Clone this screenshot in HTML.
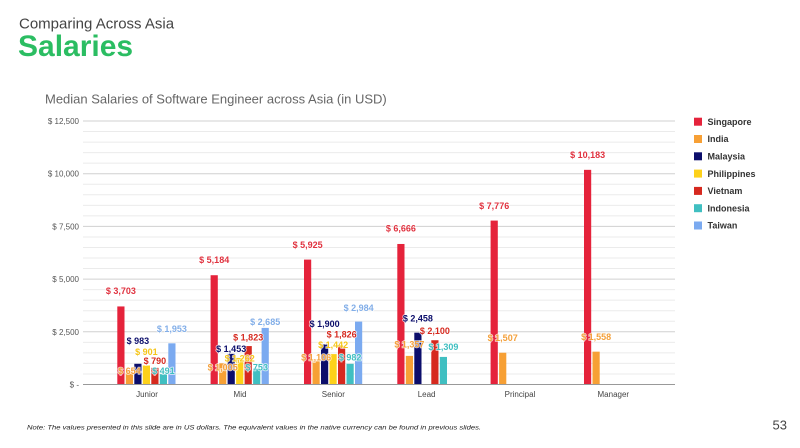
<!DOCTYPE html>
<html><head><meta charset="utf-8"><style>
html,body{margin:0;padding:0;background:#fff;}
svg{display:block;}
text{font-family:"Liberation Sans",Arial,sans-serif;}
.lb{font-size:9px;font-weight:bold;text-anchor:middle;paint-order:stroke;stroke:#fff;stroke-width:1.6px;stroke-opacity:.75;}
.ax{font-size:8px;fill:#555;text-anchor:end;}
.cat{font-size:8px;fill:#444;text-anchor:middle;}
.lg{font-size:9px;font-weight:bold;fill:#333;}
</style></head><body>
<svg width="800" height="448" viewBox="0 0 800 448" xmlns="http://www.w3.org/2000/svg">
<rect width="800" height="448" fill="#fff"/>
<text x="19" y="28.5" font-size="15" fill="#444">Comparing Across Asia</text>
<text x="18" y="56" font-size="30" font-weight="bold" fill="#2bbd62">Salaries</text>
<text x="45" y="103.5" font-size="13" fill="#666">Median Salaries of Software Engineer across Asia (in USD)</text>

<!-- minor gridlines -->
<g stroke="#ebebeb" stroke-width="1">
<line x1="83" x2="675" y1="373.96" y2="373.96"/><line x1="83" x2="675" y1="363.42" y2="363.42"/><line x1="83" x2="675" y1="352.88" y2="352.88"/><line x1="83" x2="675" y1="342.34" y2="342.34"/>
<line x1="83" x2="675" y1="321.26" y2="321.26"/><line x1="83" x2="675" y1="310.72" y2="310.72"/><line x1="83" x2="675" y1="300.18" y2="300.18"/><line x1="83" x2="675" y1="289.64" y2="289.64"/>
<line x1="83" x2="675" y1="268.56" y2="268.56"/><line x1="83" x2="675" y1="258.02" y2="258.02"/><line x1="83" x2="675" y1="247.48" y2="247.48"/><line x1="83" x2="675" y1="236.94" y2="236.94"/>
<line x1="83" x2="675" y1="215.86" y2="215.86"/><line x1="83" x2="675" y1="205.32" y2="205.32"/><line x1="83" x2="675" y1="194.78" y2="194.78"/><line x1="83" x2="675" y1="184.24" y2="184.24"/>
<line x1="83" x2="675" y1="163.16" y2="163.16"/><line x1="83" x2="675" y1="152.62" y2="152.62"/><line x1="83" x2="675" y1="142.08" y2="142.08"/><line x1="83" x2="675" y1="131.54" y2="131.54"/>
</g>
<!-- major gridlines -->
<g stroke="#d0d0d0" stroke-width="1">
<line x1="83" x2="675" y1="331.8" y2="331.8"/><line x1="83" x2="675" y1="279.1" y2="279.1"/><line x1="83" x2="675" y1="226.4" y2="226.4"/><line x1="83" x2="675" y1="173.7" y2="173.7"/><line x1="83" x2="675" y1="121" y2="121"/>
</g>
<g class="ax">
<text x="79" y="124">$ 12,500</text><text x="79" y="176.7">$ 10,000</text><text x="79" y="229.4">$ 7,500</text><text x="79" y="282.1">$ 5,000</text><text x="79" y="334.8">$ 2,500</text><text x="79" y="387.5">$ -</text>
</g>

<!-- bars -->
<g>
<!-- Junior -->
<rect x="117.3" y="306.44" width="7.2" height="78.06" fill="#e5233b"/>
<rect x="125.8" y="370.71" width="7.2" height="13.79" fill="#f7a035"/>
<rect x="134.3" y="363.78" width="7.2" height="20.72" fill="#0c0e6b"/>
<rect x="142.8" y="365.51" width="7.2" height="18.99" fill="#fdd11a"/>
<rect x="151.3" y="367.85" width="7.2" height="16.65" fill="#d6291f"/>
<rect x="159.8" y="374.15" width="7.2" height="10.35" fill="#40bfc1"/>
<rect x="168.3" y="343.33" width="7.2" height="41.17" fill="#7baaf0"/>
<!-- Mid -->
<rect x="210.6" y="275.22" width="7.2" height="109.28" fill="#e5233b"/>
<rect x="219.1" y="363.31" width="7.2" height="21.19" fill="#f7a035"/>
<rect x="227.6" y="353.87" width="7.2" height="30.63" fill="#0c0e6b"/>
<rect x="236.1" y="357.9" width="7.2" height="26.6" fill="#fdd11a"/>
<rect x="244.6" y="346.07" width="7.2" height="38.43" fill="#d6291f"/>
<rect x="253.1" y="368.63" width="7.2" height="15.87" fill="#40bfc1"/>
<rect x="261.6" y="327.9" width="7.2" height="56.6" fill="#7baaf0"/>
<!-- Senior -->
<rect x="304.0" y="259.6" width="7.2" height="124.9" fill="#e5233b"/>
<rect x="312.5" y="361.19" width="7.2" height="23.31" fill="#f7a035"/>
<rect x="321.0" y="344.45" width="7.2" height="40.05" fill="#0c0e6b"/>
<rect x="329.5" y="354.1" width="7.2" height="30.4" fill="#fdd11a"/>
<rect x="338.0" y="346.01" width="7.2" height="38.49" fill="#d6291f"/>
<rect x="346.5" y="363.8" width="7.2" height="20.7" fill="#40bfc1"/>
<rect x="355.0" y="321.6" width="7.2" height="62.9" fill="#7baaf0"/>
<!-- Lead -->
<rect x="397.3" y="243.98" width="7.2" height="140.52" fill="#e5233b"/>
<rect x="405.8" y="355.89" width="7.2" height="28.61" fill="#f7a035"/>
<rect x="414.3" y="332.69" width="7.2" height="51.81" fill="#0c0e6b"/>
<rect x="431.3" y="340.23" width="7.2" height="44.27" fill="#d6291f"/>
<rect x="439.8" y="356.91" width="7.2" height="27.59" fill="#40bfc1"/>
<!-- Principal -->
<rect x="490.6" y="220.58" width="7.2" height="163.92" fill="#e5233b"/>
<rect x="499.1" y="352.73" width="7.2" height="31.77" fill="#f7a035"/>
<!-- Manager -->
<rect x="584.0" y="169.84" width="7.2" height="214.66" fill="#e5233b"/>
<rect x="592.5" y="351.66" width="7.2" height="32.84" fill="#f7a035"/>
</g>

<line x1="83" x2="675" y1="384.5" y2="384.5" stroke="#999" stroke-width="1"/>

<!-- data labels -->
<g class="lb">
<!-- Junior -->
<text x="120.9" y="294.2" fill="#e0323f">$ 3,703</text>
<text x="137.9" y="343.9" fill="#0c0e6b">$ 983</text>
<text x="146.4" y="354.9" fill="#f5c518">$ 901</text>
<text x="154.9" y="363.9" fill="#d6291f">$ 790</text>
<text x="129.4" y="373.9" fill="#f4a03a">$ 654</text>
<text x="163.4" y="373.9" fill="#40bfc1">$ 491</text>
<text x="171.9" y="331.9" fill="#82aee8">$ 1,953</text>
<!-- Mid -->
<text x="214.2" y="263.2" fill="#e0323f">$ 5,184</text>
<text x="265.2" y="324.9" fill="#82aee8">$ 2,685</text>
<text x="248.2" y="340.5" fill="#d6291f">$ 1,823</text>
<text x="231.2" y="351.9" fill="#0c0e6b">$ 1,453</text>
<text x="239.7" y="361.5" fill="#f5c518">$ 1,262</text>
<text x="222.7" y="370.5" fill="#f4a03a">$ 1,005</text>
<text x="256.7" y="370.5" fill="#40bfc1">$ 753</text>
<!-- Senior -->
<text x="307.6" y="248.2" fill="#e0323f">$ 5,925</text>
<text x="358.6" y="310.9" fill="#82aee8">$ 2,984</text>
<text x="324.6" y="327.2" fill="#0c0e6b">$ 1,900</text>
<text x="341.6" y="337.5" fill="#d6291f">$ 1,826</text>
<text x="333.1" y="348.2" fill="#f5c518">$ 1,442</text>
<text x="316.1" y="360.5" fill="#f4a03a">$ 1,106</text>
<text x="350.1" y="360.5" fill="#40bfc1">$ 982</text>
<!-- Lead -->
<text x="400.9" y="231.5" fill="#e0323f">$ 6,666</text>
<text x="417.9" y="321.5" fill="#0c0e6b">$ 2,458</text>
<text x="434.9" y="333.9" fill="#d6291f">$ 2,100</text>
<text x="409.4" y="347.5" fill="#f4a03a">$ 1,357</text>
<text x="443.4" y="349.9" fill="#40bfc1">$ 1,309</text>
<!-- Principal -->
<text x="494.2" y="208.9" fill="#e0323f">$ 7,776</text>
<text x="502.7" y="340.9" fill="#f4a03a">$ 1,507</text>
<!-- Manager -->
<text x="587.6" y="157.9" fill="#e0323f">$ 10,183</text>
<text x="596.1" y="340.2" fill="#f4a03a">$ 1,558</text>
</g>

<!-- category labels -->
<g class="cat">
<text x="147" y="397">Junior</text>
<text x="240" y="397">Mid</text>
<text x="333.3" y="397">Senior</text>
<text x="426.6" y="397">Lead</text>
<text x="520" y="397">Principal</text>
<text x="613.3" y="397">Manager</text>
</g>

<!-- legend -->
<g>
<rect x="694" y="117.7" width="8" height="8" fill="#e5233b"/><text class="lg" x="707.5" y="124.9">Singapore</text>
<rect x="694" y="135" width="8" height="8" fill="#f7a035"/><text class="lg" x="707.5" y="142.2">India</text>
<rect x="694" y="152.3" width="8" height="8" fill="#0c0e6b"/><text class="lg" x="707.5" y="159.5">Malaysia</text>
<rect x="694" y="169.6" width="8" height="8" fill="#fdd11a"/><text class="lg" x="707.5" y="176.8">Philippines</text>
<rect x="694" y="186.9" width="8" height="8" fill="#d6291f"/><text class="lg" x="707.5" y="194.1">Vietnam</text>
<rect x="694" y="204.2" width="8" height="8" fill="#40bfc1"/><text class="lg" x="707.5" y="211.4">Indonesia</text>
<rect x="694" y="221.5" width="8" height="8" fill="#7baaf0"/><text class="lg" x="707.5" y="228.7">Taiwan</text>
</g>

<text x="27" y="429.5" font-size="6.3" font-style="italic" fill="#222" textLength="454" lengthAdjust="spacingAndGlyphs">Note: The values presented in this slide are in US dollars. The equivalent values in the native currency can be found in previous slides.</text>
<text x="772.5" y="429.5" font-size="13" fill="#444">53</text>
</svg>
</body></html>
